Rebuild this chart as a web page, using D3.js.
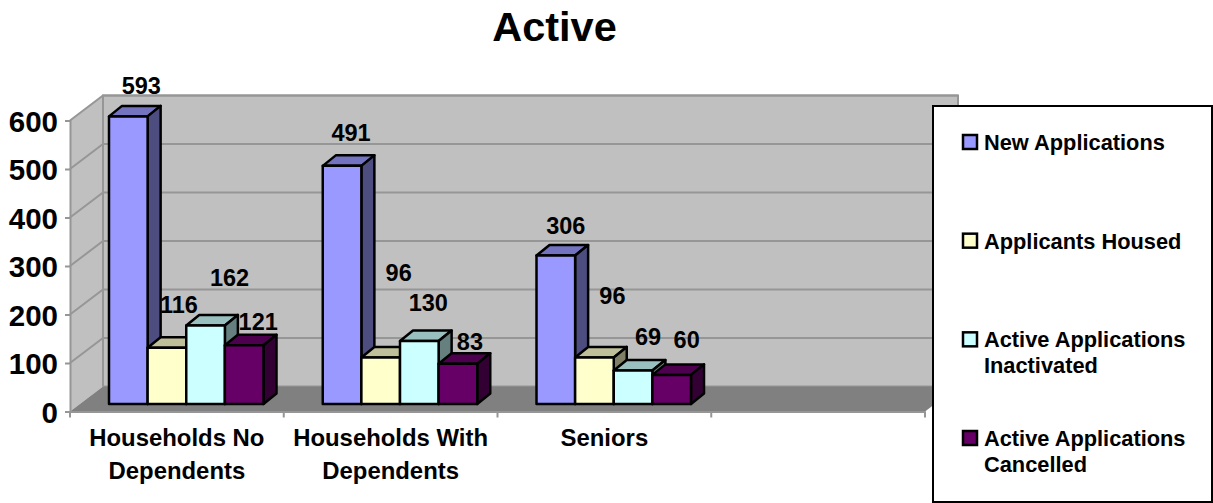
<!DOCTYPE html>
<html>
<head>
<meta charset="utf-8">
<script src="https://cdn.jsdelivr.net/npm/d3@7"></script>
<style>
  html, body { margin: 0; padding: 0; background: #fff; }
  text { font-family: 'Liberation Sans', Arial, sans-serif; font-weight: bold; fill: #000; }
</style>
</head>
<body>
<svg id="chart" width="1213" height="503"></svg>
<script>
/* global d3 */

let categories = ['Households No\nDependents', 'Households With\nDependents', 'Seniors', '']
let seriesNames = ['New Applications', 'Applicants Housed', 'Active Applications\nInactivated', 'Active Applications\nCancelled']
let newApplications = [593, 491, 306]
let applicantsHoused = [116, 96, 96]
let activeInactivated = [162, 130, 69]
let activeCancelled = [121, 83, 60]
let yTicks = [0, 100, 200, 300, 400, 500, 600]
let seriesValues = [newApplications, applicantsHoused, activeInactivated, activeCancelled]

// label nudges away from the bar top, the original has them dragged around
let labelNudgeX = [[13, 12, 24, 14], [9, 18, 9, 12], [10, 18, 15, 15]]
let labelNudgeY = [[-31, -43, -48, -24], [-33, -85, -38, -22], [-30, -62, -34, -35]]

let colors = ['#9999ff', '#ffffcc', '#ccffff', '#660066']
let topColors = ['#7373bf', '#bfbf99', '#99bfbf', '#4d004d']
let sideColors = ['#4d4d80', '#808066', '#668080', '#330033']

let wall = {dx: 33, dy: 25}
let barDepth = {dx: 13, dy: 10.5}
let barLift = 7.5

let x = d3.scaleBand().domain(categories).range([70, 925])
let y = d3.scaleLinear().domain([0, 600]).range([411.5, 120.5])
let inner = d3.scaleBand().domain(d3.range(4)).range([39, 193.5])

let svg = d3.select('#chart')

svg.append('text')
  .text('Active')
  .attr('x', 554.5)
  .attr('y', 41)
  .attr('text-anchor', 'middle')
  .style('font-size', '41.5px')

// walls and floor
let left = x.range()[0]
let right = x.range()[1]
let poly = function (points, fill) {
  return svg.append('polygon')
    .attr('points', points.map(p => p.join(',')).join(' '))
    .attr('fill', fill)
}
poly([[left + wall.dx, y(600) - wall.dy], [right + wall.dx, y(600) - wall.dy], [right + wall.dx, y(0) - wall.dy], [left + wall.dx, y(0) - wall.dy]], '#c0c0c0')
  .attr('stroke', '#969696')
  .attr('stroke-width', 2)
poly([[left, y(600)], [left + wall.dx, y(600) - wall.dy], [left + wall.dx, y(0) - wall.dy], [left, y(0)]], '#c0c0c0')

// gridlines run along the side wall and back wall
yTicks.filter(d => d > 0).forEach(function (d) {
  svg.append('polyline')
    .attr('points', [[left, y(d)], [left + wall.dx, y(d) - wall.dy], [right + wall.dx, y(d) - wall.dy]].map(p => p.join(',')).join(' '))
    .attr('fill', 'none')
    .attr('stroke', '#969696')
    .attr('stroke-width', 2)
})

poly([[left, y(0)], [left + wall.dx, y(0) - wall.dy], [right + wall.dx, y(0) - wall.dy], [right, y(0)]], '#808080')

svg.append('line')
  .attr('x1', left + wall.dx)
  .attr('x2', left + wall.dx)
  .attr('y1', y(600) - wall.dy)
  .attr('y2', y(0) - wall.dy)
  .attr('stroke', '#969696')
  .attr('stroke-width', 2)

// axes
let yAxis = svg.append('g')
  .attr('transform', 'translate(' + left + ',0)')
  .call(d3.axisLeft(y).tickValues(yTicks).tickSize(5).tickPadding(7))
yAxis.selectAll('text').style('font-size', '29.5px').attr('dy', '0.36em')

let xAxis = svg.append('g')
  .attr('transform', 'translate(0,' + y(0) + ')')
  .call(d3.axisBottom(x).tickValues([]).tickSizeOuter(0))
xAxis.selectAll('.tick').remove()

let ticks = categories.map(c => x(c)).concat([right])
svg.selectAll('.cat-tick')
  .data(ticks)
  .enter().append('line')
  .attr('class', 'cat-tick')
  .attr('x1', d => d)
  .attr('x2', d => d)
  .attr('y1', y(0))
  .attr('y2', y(0) + 6)
svg.selectAll('.domain, .tick line, .cat-tick')
  .attr('stroke', '#969696')
  .attr('stroke-width', 2)

categories.forEach(function (c) {
  c.split('\n').forEach(function (line, k) {
    svg.append('text')
      .text(line)
      .attr('x', x(c) + x.bandwidth() / 2)
      .attr('y', 446 + k * 33)
      .attr('text-anchor', 'middle')
      .style('font-size', '23.9px')
  })
})

// bars
let labels = []
categories.slice(0, 3).forEach(function (c, i) {
  seriesValues.forEach(function (values, s) {
    let bx = x(c) + inner(s)
    let bw = inner.bandwidth()
    let by = y(values[i]) - barLift
    let base = y(0) - barLift
    let g = svg.append('g')
      .attr('stroke', '#000')
      .attr('stroke-width', 2.5)
      .attr('stroke-linejoin', 'round')
    g.append('polygon')
      .attr('points', [[bx, by], [bx + barDepth.dx, by - barDepth.dy], [bx + bw + barDepth.dx, by - barDepth.dy], [bx + bw, by]].map(p => p.join(',')).join(' '))
      .attr('fill', topColors[s])
    g.append('polygon')
      .attr('points', [[bx + bw, by], [bx + bw + barDepth.dx, by - barDepth.dy], [bx + bw + barDepth.dx, base - barDepth.dy], [bx + bw, base]].map(p => p.join(',')).join(' '))
      .attr('fill', sideColors[s])
    g.append('rect')
      .attr('x', bx)
      .attr('y', by)
      .attr('width', bw)
      .attr('height', base - by)
      .attr('fill', colors[s])
    labels.push({
      value: values[i],
      x: bx + bw / 2 + labelNudgeX[i][s],
      y: by + labelNudgeY[i][s]
    })
  })
})

svg.selectAll('.value')
  .data(labels)
  .enter().append('text')
  .attr('class', 'value')
  .text(d => d.value)
  .attr('x', d => d.x)
  .attr('y', d => d.y)
  .attr('dy', '0.36em')
  .attr('text-anchor', 'middle')
  .style('font-size', '23.5px')

// legend
svg.append('rect')
  .attr('x', 933)
  .attr('y', 106)
  .attr('width', 279)
  .attr('height', 396)
  .attr('fill', '#fff')
  .attr('stroke', '#000')
  .attr('stroke-width', 2)

let legendY = d3.scalePoint().domain(d3.range(4)).range([142, 438])
seriesNames.forEach(function (name, s) {
  svg.append('rect')
    .attr('x', 963)
    .attr('y', legendY(s) - 7)
    .attr('width', 14)
    .attr('height', 14)
    .attr('fill', colors[s])
    .attr('stroke', '#000')
    .attr('stroke-width', 2.5)
  name.split('\n').forEach(function (line, k) {
    svg.append('text')
      .text(line)
      .attr('x', 984)
      .attr('y', legendY(s) + k * 26)
      .attr('dy', '0.36em')
      .style('font-size', '21.8px')
  })
})
</script>
</body>
</html>
